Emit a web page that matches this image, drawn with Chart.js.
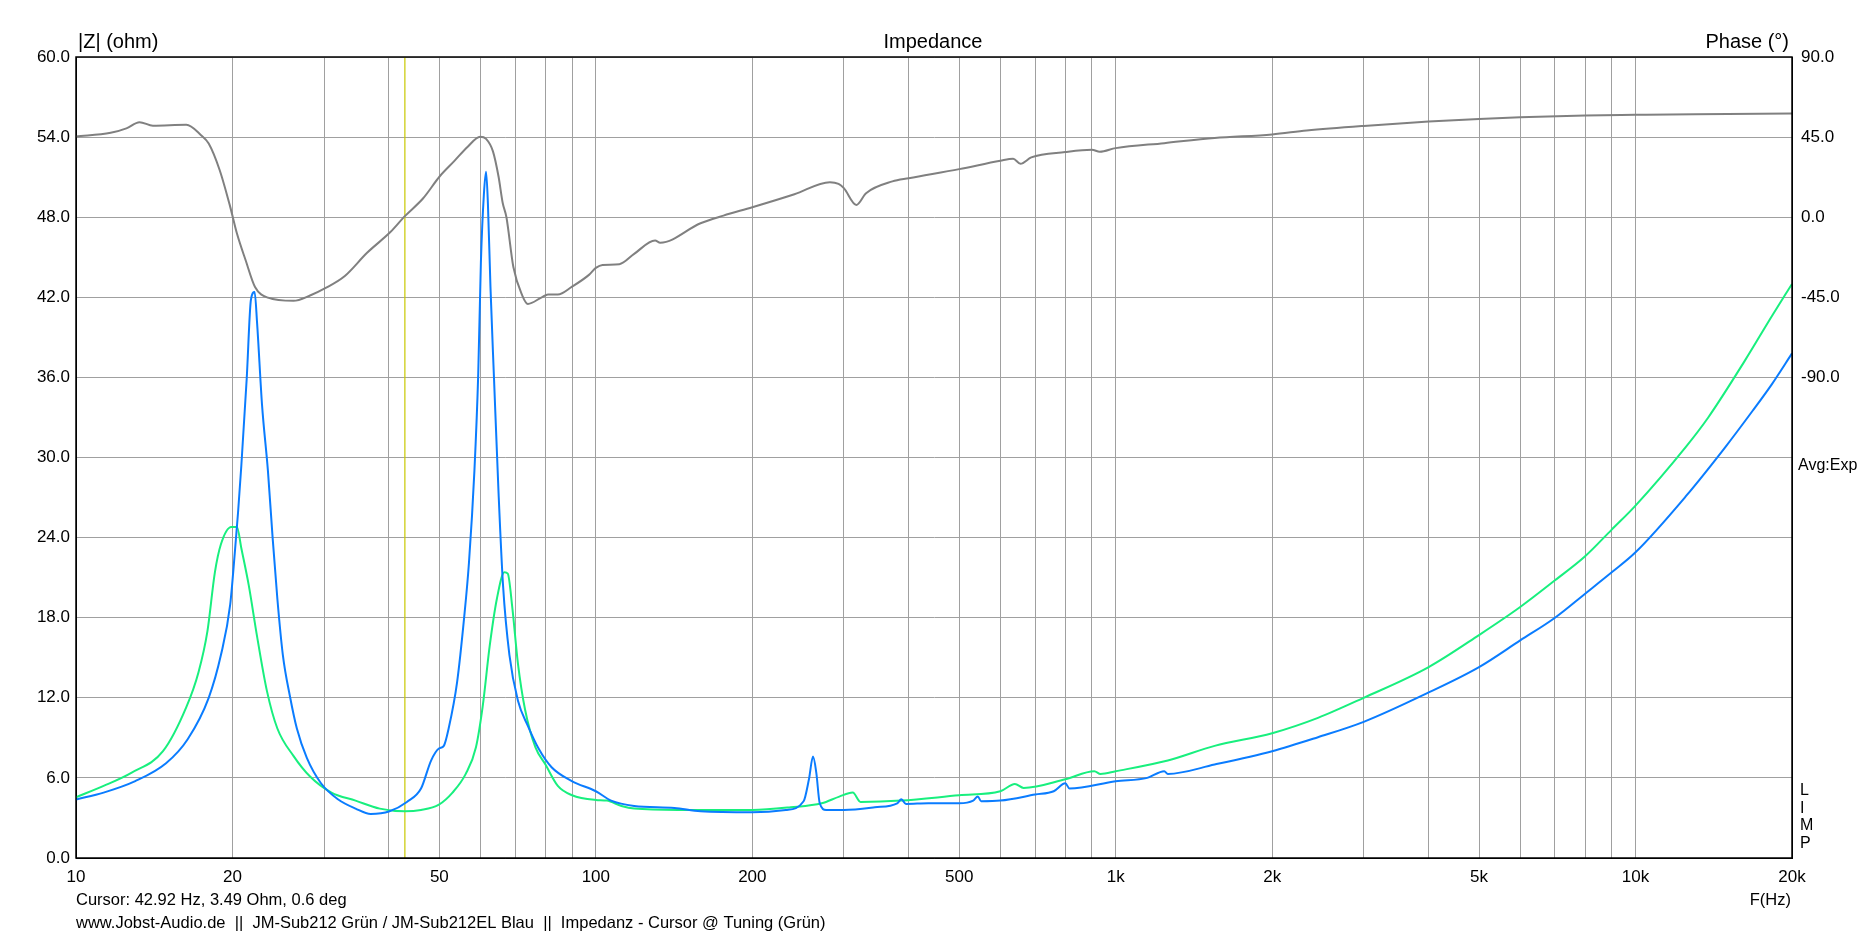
<!DOCTYPE html>
<html>
<head>
<meta charset="utf-8">
<script src="https://cdn.jsdelivr.net/npm/chart.js@4.4.1/dist/chart.umd.min.js"></script>
<style>
html, body { margin: 0; padding: 0; background: #fff; }
#wrap { width: 1868px; height: 938px; }
</style>
</head>
<body>
<div id="wrap"><canvas id="impChart" width="1868" height="938"></canvas></div>
<script>
// axis ticks
const freqTicks = [10, 20, 30, 40, 50, 60, 70, 80, 90, 100, 200, 300, 400, 500, 600, 700, 800, 900,
  1000, 2000, 3000, 4000, 5000, 6000, 7000, 8000, 9000, 10000, 20000];
const freqLabels = { 10: '10', 20: '20', 50: '50', 100: '100', 200: '200', 500: '500',
  1000: '1k', 2000: '2k', 5000: '5k', 10000: '10k', 20000: '20k' };
const phaseLabels = [90, 45, 0, -45, -90];

// JM-Sub212 (green)
const greenFreq = [10, 11.3, 12.8, 14.7, 16.3, 17.2, 17.9, 18.5, 19.0, 19.9, 20.4, 20.8, 21.5, 22.3, 23.3, 24.4,
  26.2, 28.2, 31.0, 34.5, 38.4, 42.9, 46.1, 49.9, 53.0, 56.2, 58.8, 60.6, 62.5, 64.5, 66.7, 67.7, 69.1, 70.8,
  73.1, 76.5, 80.0, 84.5, 90, 100, 105, 112, 118.5, 144, 200, 237, 272, 294, 312, 323, 387, 500, 600, 640, 665,
  800, 910, 935, 1000, 1260, 1550, 2000, 2450, 3000, 4000, 5000, 6000, 7000, 8000, 9000, 10000, 12500, 13800,
  16200, 18300, 20000];
const greenZ = [4.55, 5.4, 6.4, 8.0, 11.3, 13.9, 17.0, 21.4, 23.5, 24.8, 24.8, 23.2, 20.4, 16.6, 12.5, 9.7,
  7.65, 6.1, 4.9, 4.3, 3.7, 3.5, 3.6, 4.0, 4.9, 6.3, 8.3, 11.4, 15.9, 19.4, 21.4, 21.3, 18.7, 14.6,
  11.1, 8.3, 7.0, 5.4, 4.7, 4.35, 4.3, 3.9, 3.7, 3.6, 3.6, 3.8, 4.1, 4.6, 4.9, 4.2, 4.3, 4.7, 5.0, 5.55, 5.25,
  5.9, 6.5, 6.3, 6.5, 7.3, 8.4, 9.35, 10.5, 12.0, 14.3, 16.7, 18.8, 20.8, 22.6, 24.6, 26.4, 30.8, 33.0,
  37.2, 40.6, 43.0];

// JM-Sub212EL (blue)
const blueFreq = [10, 11.3, 13.0, 14.9, 16.4, 18.0, 19.0, 19.8, 20.2, 20.5, 20.8, 21.3, 21.7, 22.06, 22.3, 22.8,
  23.4, 23.9, 24.4, 25.0, 25.8, 26.6, 27.8, 29.6, 31.9, 34.5, 36.9, 40.1, 43.3, 46.1, 48.2, 49.9, 51.0, 52.1,
  54.1, 55.8, 57.0, 58.4, 59.4, 60.1, 60.9, 61.5, 62.0, 62.7, 63.7, 65.0, 66.3, 68.2, 70.8, 74.0, 77.6, 82.2,
  89.9, 100, 107, 118.5, 141.6, 159, 200, 232, 251, 257, 261.7, 265.5, 269.6, 277.4, 300, 344, 380, 387, 395,
  436, 500, 532, 543, 551, 600, 700, 760, 800, 815, 1000, 1150, 1240, 1260, 1550, 2000, 2450, 3000, 4000,
  5000, 6000, 7000, 8000, 9000, 10000, 12500, 14900, 16800, 18300, 20000];
const blueZ = [4.38, 4.9, 5.76, 7.1, 8.9, 12.0, 15.2, 19.0, 22.8, 25.9, 29.4, 35.9, 41.8, 42.4, 40.1, 33.9,
  29.0, 23.9, 19.4, 15.2, 12.1, 9.7, 7.5, 5.6, 4.4, 3.7, 3.3, 3.5, 4.2, 5.2, 7.3, 8.2, 8.4, 9.7,
  13.2, 18.0, 22.1, 29.0, 36.3, 44.6, 49.7, 51.4, 49.0, 42.8, 35.9, 27.3, 20.4, 15.2, 11.8, 9.9, 8.2, 6.8,
  5.76, 5.0, 4.3, 3.9, 3.75, 3.5, 3.43, 3.6, 4.25, 5.9, 7.6, 6.4, 4.1, 3.6, 3.6, 3.8, 4.1, 4.4, 4.05,
  4.1, 4.1, 4.3, 4.6, 4.25, 4.3, 4.75, 5.0, 5.6, 5.2, 5.75, 6.0, 6.5, 6.3, 7.0, 8.0, 9.05, 10.2, 12.4,
  14.3, 16.3, 18.0, 19.8, 21.4, 22.9, 27.1, 30.8, 33.5, 35.5, 37.8];

// phase (grey, right axis)
const phaseFreq = [10, 11.66, 12.5, 13.25, 14.06, 16.3, 17.4, 18.0, 18.9, 19.8, 20.4, 21.2, 22.1, 23.4, 26.2,
  28.2, 30.1, 32.9, 36.3, 40.2, 42.92, 46.5, 50.1, 53.4, 56.7, 59.9, 61.5, 63.4, 65.0, 66.2, 67.3, 69.4, 72.2,
  74.0, 78.7, 80.9, 84.5, 90, 97, 100, 103, 111, 118.5, 130, 133, 159, 176, 200, 241, 282, 293, 300, 317,
  331, 372, 400, 500, 600, 635, 656, 688, 800, 900, 932, 1000, 1240, 1550, 2000, 2330, 3000, 4000, 5000,
  6000, 8000, 10000, 13000, 20000];
const phaseDeg = [45.4, 47.4, 49.9, 53.4, 51.4, 51.9, 46.1, 41.4, 26.4, 5.8, -9.2, -24.2, -39.2, -45.2, -47,
  -44, -40, -33, -20, -8.5, 0.6, 10.5, 23, 31.5, 39.6, 45.2, 44, 37, 22.7, 8, 0, -28, -44,
  -48.7, -45, -43.4, -43.4, -39, -32.4, -28.5, -26.8, -26.4, -20.6, -13.1, -14.3, -3.4, 0.9, 5.6, 12.9, 19.7, 18.75, 16.3, 6.9,
  13.5, 20.1, 21.9, 27, 31.7, 32.8, 30, 33.6, 36.6, 37.9, 36.75, 38.8, 41.6, 44.5, 46.5, 48.7, 51.3, 53.7, 55.2,
  56.2, 57.1, 57.5, 57.9, 58.2];

const cursorFreq = 42.92;

const pts = (fs, vs) => fs.map((f, i) => ({ x: f, y: vs[i] }));
const FONT = '"Liberation Sans", Arial, sans-serif';

const textPlugin = {
  id: 'texts',
  afterDraw(chart) {
    const ctx = chart.ctx;
    const a = chart.chartArea;
    ctx.save();
    ctx.strokeStyle = '#000';
    ctx.lineWidth = 1.5;
    ctx.strokeRect(a.left, a.top, a.right - a.left, a.bottom - a.top);
    ctx.fillStyle = '#000';
    ctx.textBaseline = 'middle';
    ctx.font = '20px ' + FONT;
    ctx.textAlign = 'left';
    ctx.fillText('|Z| (ohm)', 78, 42);
    ctx.textAlign = 'center';
    ctx.fillText('Impedance', 933, 42);
    ctx.textAlign = 'right';
    ctx.fillText('Phase (\u00b0)', 1789, 42);
    ctx.font = '16px ' + FONT;
    ctx.textAlign = 'left';
    ctx.fillText('Avg:Exp', 1798, 466);
    ['L', 'I', 'M', 'P'].forEach((c, i) => ctx.fillText(c, 1800, 791 + i * 17.5));
    ctx.font = '16.5px ' + FONT;
    ctx.fillText('Cursor: 42.92 Hz, 3.49 Ohm, 0.6 deg', 76, 900);
    ctx.fillText('www.Jobst-Audio.de  ||  JM-Sub212 Gr\u00fcn / JM-Sub212EL Blau  ||  Impedanz - Cursor @ Tuning (Gr\u00fcn)', 76, 923);
    ctx.textAlign = 'right';
    ctx.fillText('F(Hz)', 1791, 900);
    ctx.restore();
  }
};

new Chart(document.getElementById('impChart').getContext('2d'), {
  type: 'line',
  data: {
    datasets: [
      {
        label: 'JM-Sub212EL',
        data: pts(blueFreq, blueZ),
        borderColor: '#0a7cff',
        borderWidth: 2,
        yAxisID: 'y',
        cubicInterpolationMode: 'monotone'
      },
      {
        label: 'JM-Sub212',
        data: pts(greenFreq, greenZ),
        borderColor: '#18ef7e',
        borderWidth: 2,
        yAxisID: 'y',
        cubicInterpolationMode: 'monotone'
      },
      {
        label: 'Phase',
        data: pts(phaseFreq, phaseDeg),
        borderColor: '#808080',
        borderWidth: 2,
        yAxisID: 'y2',
        cubicInterpolationMode: 'monotone'
      },
      {
        label: 'Cursor',
        data: [{ x: cursorFreq, y: 0 }, { x: cursorFreq, y: 60 }],
        borderColor: '#c8c800',
        borderWidth: 1.2,
        yAxisID: 'y'
      }
    ]
  },
  options: {
    responsive: false,
    devicePixelRatio: 1,
    animation: false,
    elements: { point: { radius: 0 } },
    layout: { padding: { top: 57, left: 0, right: 0, bottom: 0 } },
    plugins: {
      legend: { display: false },
      tooltip: { enabled: false }
    },
    scales: {
      x: {
        type: 'logarithmic',
        min: 10,
        max: 20000,
        afterBuildTicks: s => { s.ticks = freqTicks.map(v => ({ value: v })); },
        afterFit: s => { s.height = 80; },
        ticks: {
          autoSkip: false,
          maxRotation: 0,
          padding: 9,
          color: '#000',
          font: { family: FONT, size: 17 },
          callback: v => freqLabels[v] || ''
        },
        grid: { color: '#a0a0a0', drawTicks: false },
        border: { color: '#000' }
      },
      y: {
        position: 'left',
        min: 0,
        max: 60,
        afterFit: s => { s.width = 76; },
        ticks: {
          stepSize: 6,
          padding: 6,
          color: '#000',
          font: { family: FONT, size: 17 },
          callback: v => v.toFixed(1)
        },
        grid: { color: '#a0a0a0', drawTicks: false },
        border: { color: '#000' }
      },
      y2: {
        position: 'right',
        min: -360,
        max: 90,
        afterFit: s => { s.width = 76; },
        ticks: {
          stepSize: 45,
          padding: 9,
          color: '#000',
          font: { family: FONT, size: 17 },
          callback: v => phaseLabels.includes(v) ? v.toFixed(1) : ''
        },
        grid: { display: false, drawTicks: false },
        border: { color: '#000' }
      }
    }
  },
  plugins: [textPlugin]
});
</script>
</body>
</html>
